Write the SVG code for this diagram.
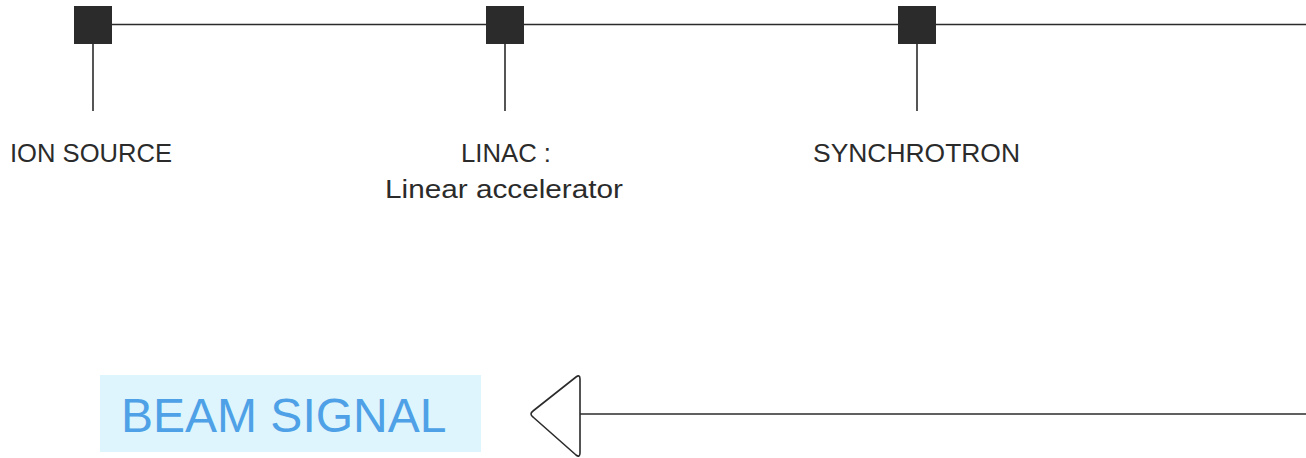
<svg xmlns="http://www.w3.org/2000/svg" width="1306" height="458" viewBox="0 0 1306 458">
<style>
.ln{stroke:#2b2b2b;stroke-width:1.6;fill:none}
.sq{fill:#2b2b2b}
.lbl{font-family:"Liberation Sans",Arial,sans-serif;font-size:26px;fill:#2b2b2b}
.beam{font-family:"Liberation Sans",Arial,sans-serif;font-size:48px;fill:#4ea1e6}
</style>
<rect width="1306" height="458" fill="#ffffff"/>
<g id="connectors">
<line class="ln" x1="112" y1="24.5" x2="1306" y2="24.5"/>
<line class="ln" x1="93" y1="44" x2="93" y2="111"/>
<line class="ln" x1="505" y1="44" x2="505" y2="111"/>
<line class="ln" x1="917" y1="44" x2="917" y2="111"/>
<line class="ln" x1="580" y1="414" x2="1306" y2="414"/>
<path class="ln" d="M576,377 Q580,374 580,379 L580,453 Q580,458 576,455 L533,417 Q529,414 533,411 Z"/>
</g>
<g id="ion-source">
<rect class="sq" x="74" y="6" width="38" height="38"/>
<text class="lbl" x="10" y="162" textLength="162" lengthAdjust="spacingAndGlyphs">ION SOURCE</text>
</g>
<g id="linac">
<rect class="sq" x="486" y="6" width="38" height="38"/>
<text class="lbl" x="461" y="162" textLength="90" lengthAdjust="spacingAndGlyphs">LINAC :</text>
<text class="lbl" x="385" y="198" textLength="238" lengthAdjust="spacingAndGlyphs">Linear accelerator</text>
</g>
<g id="synchrotron">
<rect class="sq" x="898" y="6" width="38" height="38"/>
<text class="lbl" x="813" y="162" textLength="207" lengthAdjust="spacingAndGlyphs">SYNCHROTRON</text>
</g>
<g id="beam-signal">
<rect x="100" y="375" width="381" height="77" fill="#def5fd"/>
<text class="beam" x="121" y="432">BEAM SIGNAL</text>
</g>
</svg>
